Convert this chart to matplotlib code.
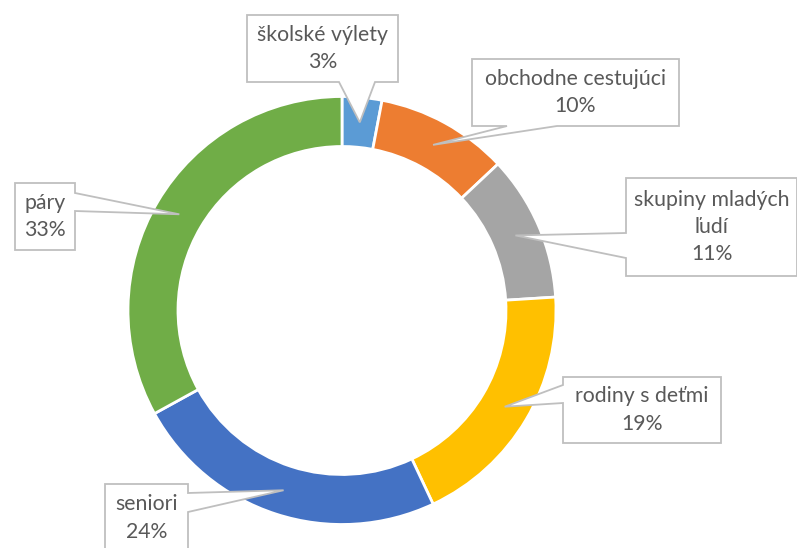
import matplotlib
matplotlib.use("Agg")
import matplotlib.pyplot as plt
import numpy as np
from matplotlib.patches import Polygon

categories = ["školské výlety", "obchodne cestujúci", "skupiny mladých\nľudí",
              "rodiny s deťmi", "seniori", "páry"]
shares = [3, 10, 11, 19, 24, 33]
colors = ["#5B9BD5", "#ED7D31", "#A5A5A5", "#FFC000", "#4472C4", "#70AD47"]

# callout boxes in pixels (y down): x0, x1, top, bottom, pointer side, base a, base b
boxes = [
    (247, 398, 15, 82, "bottom", 339, 375),
    (472, 679, 59, 126, "bottom", 507, 557),
    (626, 797, 178, 276, "left", 233, 258),
    (563, 721, 377, 443, "left", 385, 403),
    (105, 188, 484, 552, "right", 493, 512),
    (15, 75, 183, 250, "right", 193, 211),
]

W, H = 797, 548
plt.rcParams['font.family'] = ['Lato', 'DejaVu Sans']

fig = plt.figure(figsize=(W / 100, H / 100), dpi=100)
ax = fig.add_axes([0, 0, 1, 1])

cx, cy, R, ring = 342, H - 310.5, 214, 50
wedges, _ = ax.pie(shares, colors=colors, startangle=90, counterclock=False,
                   radius=R, center=(cx, cy), frame=True,
                   wedgeprops=dict(width=ring, edgecolor="white", linewidth=2))

for w, name, val, b in zip(wedges, categories, shares, boxes):
    mid = np.deg2rad((w.theta1 + w.theta2) / 2)
    rm = R - ring / 2
    tip = (cx + rm * np.cos(mid), cy + rm * np.sin(mid))
    x0, x1, top, bot, side, ba, bb = b
    t, bo = H - top, H - bot
    if side == "bottom":
        pts = [(x0, t), (x1, t), (x1, bo), (bb, bo), tip, (ba, bo), (x0, bo)]
    elif side == "left":
        pts = [(x0, t), (x1, t), (x1, bo), (x0, bo), (x0, H - bb), tip, (x0, H - ba)]
    else:
        pts = [(x0, t), (x1, t), (x1, H - ba), tip, (x1, H - bb), (x1, bo), (x0, bo)]
    ax.add_patch(Polygon(pts, closed=True, fc="white", ec="#BFBFBF", lw=1.3, zorder=5))
    ax.text((x0 + x1) / 2, (t + bo) / 2, f"{name}\n{val}%", ha="center", va="center",
            multialignment="center", fontsize=15.3, color="#595959", linespacing=1.45, zorder=6)

ax.set_xlim(0, W)
ax.set_ylim(0, H)
ax.set_aspect("equal")
ax.axis("off")
fig.savefig("out.png", dpi=100)
